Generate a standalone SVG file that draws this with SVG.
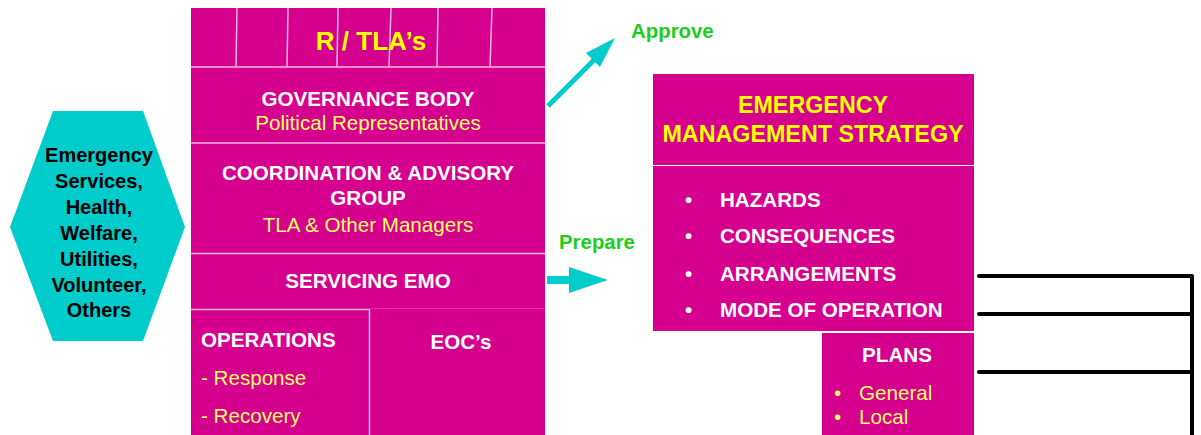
<svg xmlns="http://www.w3.org/2000/svg" width="1201" height="435" viewBox="0 0 1201 435">
  <style>
    .box { fill: #D6008F; }
    .sep { stroke: #F4B6DC; stroke-width: 1.5; fill: none; }
    .t { font-family: "Liberation Sans", Arial, sans-serif; }
    .wb { fill: #FFFFFF; font-weight: bold; font-size: 20.6px; }
    .yb { fill: #FFFF00; font-weight: bold; }
    .ly { fill: #FFFF66; font-size: 20.6px; }
    .kb { fill: #000000; font-weight: bold; font-size: 20px; }
    .gb { fill: #1ECC1E; font-weight: bold; font-size: 20.4px; }
    .teal { fill: #00CCCC; }
    .bracket { stroke: #000000; stroke-width: 4; stroke-linecap: round; fill: none; }
  </style>

  <!-- partner agencies hexagon -->
  <g id="agencies">
    <polygon class="teal" points="53,111 143,111 185,227 143,341 53,341 10,227"/>
    <g class="t kb" text-anchor="middle">
      <text x="99" y="162">Emergency</text>
      <text x="99" y="188">Services,</text>
      <text x="99" y="214">Health,</text>
      <text x="99" y="240">Welfare,</text>
      <text x="99" y="266">Utilities,</text>
      <text x="99" y="292">Volunteer,</text>
      <text x="99" y="317">Others</text>
    </g>
  </g>

  <!-- R / TLA's header row -->
  <g id="rtla">
    <rect class="box" x="191" y="8" width="354" height="59"/>
    <line class="sep" x1="237" y1="8" x2="236" y2="67"/>
    <line class="sep" x1="288" y1="8" x2="287" y2="67"/>
    <line class="sep" x1="338" y1="8" x2="337" y2="67"/>
    <line class="sep" x1="391" y1="8" x2="389" y2="67"/>
    <line class="sep" x1="438" y1="8" x2="437" y2="67"/>
    <line class="sep" x1="492" y1="8" x2="490" y2="67"/>
    <text class="t yb" x="371" y="50" text-anchor="middle" font-size="26">R / TLA’s</text>
  </g>

  <!-- governance body -->
  <g id="governance">
    <rect class="box" x="191" y="67" width="354" height="76"/>
    <line class="sep" x1="191" y1="67" x2="545" y2="67"/>
    <text class="t wb" x="368" y="106" text-anchor="middle">GOVERNANCE BODY</text>
    <text class="t ly" x="368" y="130" text-anchor="middle">Political Representatives</text>
  </g>

  <!-- coordination & advisory group -->
  <g id="coordination">
    <rect class="box" x="191" y="143" width="354" height="110"/>
    <line class="sep" x1="191" y1="143" x2="545" y2="143"/>
    <text class="t wb" x="368" y="180" text-anchor="middle">COORDINATION &amp; ADVISORY</text>
    <text class="t wb" x="368" y="205" text-anchor="middle">GROUP</text>
    <text class="t ly" x="368" y="232" text-anchor="middle">TLA &amp; Other Managers</text>
  </g>

  <!-- servicing EMO -->
  <g id="servicing">
    <rect class="box" x="191" y="253" width="354" height="56"/>
    <line class="sep" x1="191" y1="253.5" x2="545" y2="253.5"/>
    <text class="t wb" x="368" y="288" text-anchor="middle">SERVICING EMO</text>
  </g>

  <!-- operations -->
  <g id="operations">
    <rect class="box" x="191" y="309" width="178" height="126"/>
    <line class="sep" x1="191" y1="309.5" x2="545" y2="309.5"/>
    <text class="t wb" x="201" y="347">OPERATIONS</text>
    <text class="t ly" x="201" y="385">- Response</text>
    <text class="t ly" x="201" y="423">- Recovery</text>
  </g>

  <!-- EOCs -->
  <g id="eocs">
    <rect class="box" x="369" y="309" width="176" height="126"/>
    <line class="sep" x1="369.5" y1="309" x2="369.5" y2="435"/>
    <text class="t wb" x="461" y="349" text-anchor="middle">EOC’s</text>
  </g>

  <!-- emergency management strategy -->
  <g id="strategy">
    <rect class="box" x="653" y="74" width="321" height="91"/>
    <text class="t yb" x="813" y="113" text-anchor="middle" font-size="23.3">EMERGENCY</text>
    <text class="t yb" x="813" y="142" text-anchor="middle" font-size="23.3">MANAGEMENT STRATEGY</text>
  </g>

  <g id="strategy-items">
    <rect class="box" x="653" y="166" width="321" height="165"/>
    <g class="t wb">
      <text x="685" y="207">•</text>
      <text x="720" y="207">HAZARDS</text>
      <text x="685" y="243">•</text>
      <text x="720" y="243">CONSEQUENCES</text>
      <text x="685" y="281">•</text>
      <text x="720" y="281">ARRANGEMENTS</text>
      <text x="685" y="317">•</text>
      <text x="720" y="317">MODE OF OPERATION</text>
    </g>
  </g>

  <!-- plans -->
  <g id="plans">
    <rect class="box" x="822" y="333" width="152" height="102"/>
    <text class="t wb" x="897" y="362" text-anchor="middle">PLANS</text>
    <g class="t ly">
      <text x="834" y="400">•</text>
      <text x="859" y="400">General</text>
      <text x="834" y="424">•</text>
      <text x="859" y="424">Local</text>
    </g>
  </g>

  <!-- connectors -->
  <g id="connectors">
    <!-- approve -->
    <line x1="548" y1="106" x2="600" y2="54" stroke="#00CCCC" stroke-width="5"/>
    <polygon class="teal" points="615,38 586,53 600,67"/>
    <text class="t gb" x="631" y="38">Approve</text>
    <!-- prepare -->
    <polygon class="teal" points="547,276 569,276 569,267 608,280 569,293 569,284 547,284"/>
    <text class="t gb" x="559" y="249">Prepare</text>
    <!-- bracket -->
    <path class="bracket" d="M979,276 H1192 M979,314 H1192 M979,372 H1192 M1192,276 V437"/>
  </g>
</svg>
